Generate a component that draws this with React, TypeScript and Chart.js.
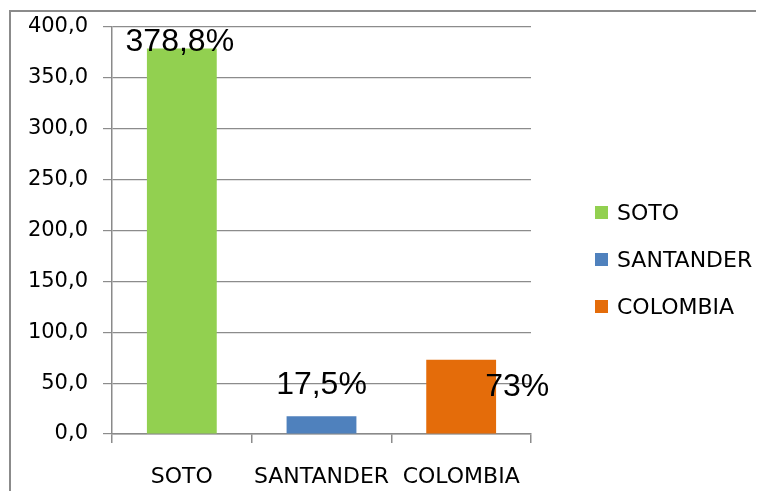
import React, { useEffect, useRef } from "react";
import { Chart, registerables } from "chart.js";

Chart.register(...registerables);

const categories = ["SOTO", "SANTANDER", "COLOMBIA"];
const values = [378.8, 17.5, 73];
const valueLabels = ["378,8%", "17,5%", "73%"];
const barColors = ["#92D050", "#4F81BD", "#E46C0A"];
const yMin = 0;
const yMax = 400;
const yStep = 50;

// label placement relative to bar top (dx, baseline dy)
const labelOffsets = [
  [-2, 2.5],
  [0, -22.5],
  [56, 36.5],
];

const AXIS_FONT = "'DejaVu Sans', sans-serif";

const labelPlugin = {
  id: "valueLabels",
  afterDatasetsDraw(chart: any) {
    const meta = chart.getDatasetMeta(0);
    const ctx = chart.ctx;
    ctx.save();
    ctx.font = "32px 'Liberation Sans', Arial, sans-serif";
    ctx.fillStyle = "#000000";
    ctx.textAlign = "center";
    ctx.textBaseline = "alphabetic";
    meta.data.forEach((el: any, i: number) => {
      const [dx, dy] = labelOffsets[i];
      ctx.fillText(valueLabels[i], el.x + dx, el.y + dy);
    });
    ctx.restore();
  },
};

const framePlugin = {
  id: "frame",
  beforeDraw(chart: any) {
    const ctx = chart.ctx;
    ctx.save();
    ctx.strokeStyle = "#8b8b8b";
    ctx.lineWidth = 2;
    ctx.beginPath();
    ctx.moveTo(10, chart.height + 5);
    ctx.lineTo(10, 11);
    ctx.lineTo(chart.width + 5, 11);
    ctx.stroke();
    ctx.restore();
  },
};

export default function App() {
  const ref = useRef<HTMLCanvasElement | null>(null);

  useEffect(() => {
    if (!ref.current) return;
    const chart = new Chart(ref.current, {
      type: "bar",
      data: {
        labels: categories,
        datasets: [
          {
            data: values,
            backgroundColor: barColors,
            borderWidth: 0,
            barPercentage: 0.5,
            categoryPercentage: 1,
          },
        ],
      },
      options: {
        animation: false,
        responsive: true,
        maintainAspectRatio: false,
        layout: { padding: { left: 0, right: 233, top: 27, bottom: 0 } },
        plugins: {
          legend: { display: false },
          tooltip: { enabled: false },
        },
        scales: {
          x: {
            grid: {
              display: true,
              offset: true,
              drawOnChartArea: false,
              drawTicks: true,
              tickLength: 9,
              color: "#8c8c8c",
              lineWidth: 1.5,
            },
            border: { display: true, color: "#8a8a8a", width: 1.5 },
            ticks: {
              color: "#000000",
              font: { family: AXIS_FONT, size: 22 },
              padding: 21,
              maxRotation: 0,
              autoSkip: false,
            },
            afterFit(scale: any) {
              scale.height = 65;
            },
          },
          y: {
            min: yMin,
            max: yMax,
            grid: {
              color: "#8c8c8c",
              lineWidth: 1.2,
              tickLength: 9,
              drawTicks: true,
            },
            border: { display: true, color: "#8a8a8a", width: 1.5 },
            ticks: {
              stepSize: yStep,
              color: "#000000",
              font: { family: AXIS_FONT, size: 21 },
              padding: 15,
              autoSkip: false,
              callback: (v: any) => Number(v).toFixed(1).replace(".", ","),
            },
            afterFit(scale: any) {
              scale.width = 112;
              scale.paddingTop = 0;
              scale.paddingBottom = 0;
            },
          },
        },
      },
      plugins: [framePlugin, labelPlugin],
    });
    return () => chart.destroy();
  }, []);

  const legendCenters = [212, 259, 306];

  return (
    <div
      style={{
        position: "relative",
        width: 764,
        height: 499,
        margin: -8,
        overflow: "hidden",
        background: "#ffffff",
      }}
    >
      <div style={{ position: "absolute", left: 0, top: 0, width: 764, height: 499 }}>
        <canvas ref={ref} />
      </div>
      {categories.map((c, i) => (
        <div
          key={c}
          style={{
            position: "absolute",
            left: 595,
            top: legendCenters[i] - 12,
            height: 24,
            display: "flex",
            alignItems: "center",
            fontFamily: AXIS_FONT,
            fontSize: 22,
            color: "#000",
            whiteSpace: "nowrap",
          }}
        >
          <span
            style={{
              display: "inline-block",
              width: 13,
              height: 13,
              background: barColors[i],
              marginRight: 9,
            }}
          />
          <span>{c}</span>
        </div>
      ))}
    </div>
  );
}
